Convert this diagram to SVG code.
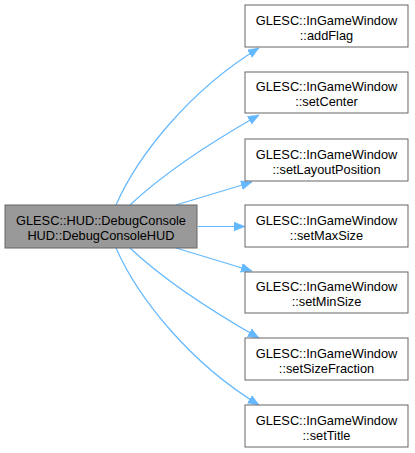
<svg xmlns="http://www.w3.org/2000/svg" width="415" height="453" viewBox="0 0 415 453">
<defs>
<style>
.n rect{fill:#ffffff;stroke:#666666;stroke-width:1}
.m rect{fill:#999999;stroke:#666666;stroke-width:1}
text{font-family:"Liberation Sans",Arial,sans-serif;font-size:12.8px;text-anchor:middle;fill:#000000}
.e path{fill:none;stroke:#63b8ff;stroke-width:1.2;marker-end:url(#ah)}
</style>
<marker id="ah" markerUnits="userSpaceOnUse" markerWidth="12" markerHeight="10" refX="11" refY="4.5" orient="auto">
<path d="M0,0 L11,4.5 L0,9 z" fill="#63b8ff" stroke="#63b8ff" stroke-width="0.5"/>
</marker>
</defs>
<rect width="415" height="453" fill="#ffffff"/>
<g id="edges" class="e">
<path d="M116,205 C138,155 190,90 259,48"/>
<path d="M130,205 C165,172 215,140 259,115"/>
<path d="M176,205 L252,182"/>
<path d="M198,226.5 L245,226.5"/>
<path d="M176,248 L252,271"/>
<path d="M130,248 C165,281 215,313 259,338"/>
<path d="M116,248 C138,298 190,363 259,405"/>
</g>
<g id="center" class="m">
<rect x="5" y="205" width="192" height="43"/>
<text x="101" y="224.5">GLESC::HUD::DebugConsole</text>
<text x="101" y="239.5">HUD::DebugConsoleHUD</text>
</g>
<g id="addFlag" class="n">
<rect x="245" y="5" width="163" height="42"/>
<text x="326.5" y="24.5">GLESC::InGameWindow</text>
<text x="326.5" y="39.5">::addFlag</text>
</g>
<g id="setCenter" class="n">
<rect x="245" y="72" width="163" height="41"/>
<text x="326.5" y="91">GLESC::InGameWindow</text>
<text x="326.5" y="106">::setCenter</text>
</g>
<g id="setLayoutPosition" class="n">
<rect x="245" y="139" width="163" height="42"/>
<text x="326.5" y="158.5">GLESC::InGameWindow</text>
<text x="326.5" y="173.5">::setLayoutPosition</text>
</g>
<g id="setMaxSize" class="n">
<rect x="245" y="205" width="163" height="42"/>
<text x="326.5" y="224.5">GLESC::InGameWindow</text>
<text x="326.5" y="239.5">::setMaxSize</text>
</g>
<g id="setMinSize" class="n">
<rect x="245" y="272" width="163" height="41"/>
<text x="326.5" y="291">GLESC::InGameWindow</text>
<text x="326.5" y="306">::setMinSize</text>
</g>
<g id="setSizeFraction" class="n">
<rect x="245" y="338" width="163" height="42"/>
<text x="326.5" y="357.5">GLESC::InGameWindow</text>
<text x="326.5" y="372.5">::setSizeFraction</text>
</g>
<g id="setTitle" class="n">
<rect x="245" y="405" width="163" height="42"/>
<text x="326.5" y="424.5">GLESC::InGameWindow</text>
<text x="326.5" y="439.5">::setTitle</text>
</g>
</svg>
